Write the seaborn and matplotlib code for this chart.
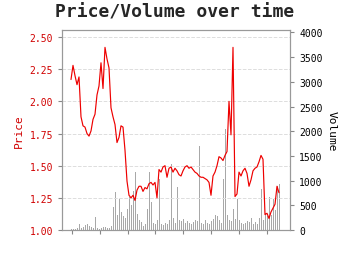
import numpy as np
import pandas as pd
import matplotlib
matplotlib.use("Agg")
import matplotlib.pyplot as plt
import seaborn as sns

price = [2.17, 2.28, 2.20, 2.13, 2.19, 1.88, 1.81, 1.80, 1.75, 1.73,
         1.77, 1.86, 1.90, 2.05, 2.12, 2.30, 2.10, 2.42, 2.33, 2.26,
         1.95, 1.88, 1.82, 1.68, 1.72, 1.81, 1.80, 1.62, 1.38, 1.27,
         1.25, 1.27, 1.23, 1.31, 1.34, 1.34, 1.30, 1.33, 1.32, 1.36,
         1.37, 1.35, 1.37, 1.25, 1.47, 1.45, 1.49, 1.50, 1.41, 1.48,
         1.49, 1.45, 1.48, 1.46, 1.43, 1.42, 1.46, 1.49, 1.50, 1.48,
         1.49, 1.47, 1.45, 1.44, 1.42, 1.41, 1.41, 1.40, 1.39, 1.37,
         1.27, 1.42, 1.45, 1.50, 1.57, 1.56, 1.54, 1.58, 1.61, 2.00,
         1.74, 2.42, 1.26, 1.28, 1.45, 1.42, 1.46, 1.48, 1.44, 1.34,
         1.39, 1.46, 1.48, 1.49, 1.53, 1.58, 1.55, 1.12, 1.13, 1.09,
         1.14, 1.17, 1.20, 1.34, 1.29]

volume = [20, 30, 25, 40, 120, 40, 60, 100, 120, 90,
          70, 50, 260, 40, 30, 40, 60, 70, 40, 50,
          90, 470, 760, 300, 630, 360, 290, 250, 420, 670,
          500, 780, 1180, 320, 200, 160, 90, 120, 420, 1170,
          570, 150, 130, 200, 1030, 120, 100, 150, 130, 200,
          1340, 250, 150, 870, 200, 180, 230, 150, 190, 140,
          120, 160, 210, 180, 1710, 150, 120, 200, 140, 120,
          180, 230, 300, 280, 200, 150, 1030, 2040, 300, 200,
          180, 420, 230, 630, 200, 150, 120, 140, 180, 160,
          250, 130, 170, 120, 250, 830, 200, 350, 280, 670,
          300, 630, 400, 900, 930]

day = list(range(len(price)))
tick_pos = [0.5, 14.4, 28.3, 42.2, 56.1, 70.0, 83.9, 97.8]
price_ticks = [1.00, 1.25, 1.50, 1.75, 2.00, 2.25, 2.50]
volume_ticks = [0, 500, 1000, 1500, 2000, 2500, 3000, 3500, 4000]

df = pd.DataFrame({"day": day, "price": price, "volume": volume})

sns.set_style("white")
plt.rcParams["font.family"] = ["DejaVu Sans Mono", "DejaVu Sans"]

fig = plt.figure(figsize=(3.5, 2.55), dpi=100)
ax1 = fig.add_axes([62 / 350, 1 - 231 / 255, 228 / 350, 200 / 255])
ax2 = ax1.twinx()

ax2.bar(df["day"], df["volume"], width=0.5, color="#999999", alpha=0.85, linewidth=0)
sns.lineplot(data=df, x="day", y="price", ax=ax1, color="#ee0000", linewidth=0.85)

ax1.set_zorder(ax2.get_zorder() + 1)
ax1.patch.set_visible(False)

ax1.set_xlim(-4.5, 109.5)
ax1.set_ylim(1.0, 2.555)
ax2.set_ylim(0, 4050)
ax1.set_xticks(tick_pos)
ax1.set_xticklabels([""] * len(tick_pos))
ax1.set_yticks(price_ticks)
ax1.set_yticklabels([f"{v:.2f}" for v in price_ticks])
ax2.set_yticks(volume_ticks)
ax2.set_yticklabels([str(v) for v in volume_ticks])

red = "#d00000"
ax1.set_xlabel("")
ax1.set_ylabel("Price", color=red, fontsize=8)
ax2.set_ylabel("Volume", color="black", fontsize=8, rotation=270, labelpad=10)
ax1.tick_params(axis="y", colors="#888888", labelcolor=red, labelsize=7, length=3, width=0.8, left=True)
ax1.tick_params(axis="x", colors="#888888", length=3, width=0.8, bottom=True)
ax2.tick_params(axis="y", colors="#888888", labelcolor="black", labelsize=7, length=3, width=0.8, right=True)

ax1.grid(axis="y", linestyle="--", color="#dddddd", linewidth=0.7)
ax1.grid(axis="x", visible=False)
ax2.grid(False)

for ax in (ax1, ax2):
    for s in ax.spines.values():
        s.set_color("#999999")
        s.set_linewidth(0.8)

fig.suptitle("Price/Volume over time", fontsize=13, fontweight="bold", y=0.985, x=0.5)

fig.savefig("out.png", dpi=100)
